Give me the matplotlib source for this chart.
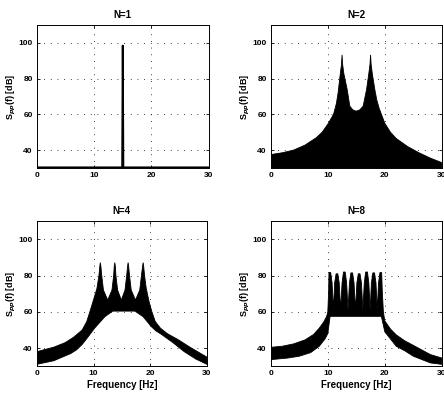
import numpy as np
import matplotlib.pyplot as plt

plt.rcParams['font.family'] = ['Liberation Sans', 'DejaVu Sans']
plt.rcParams['font.weight'] = 'bold'

# ==========================
# data (dB)
# ==========================

# N=1: single line at 15 Hz
f1 = [0, 14.9, 15.0, 15.1, 30]
s1 = [30.3, 30.3, 98.5, 30.3, 30.3]

# N=2: upper envelope, filled to the bottom
f2_up = [0, 2, 4, 6, 8, 9, 10, 11, 11.5, 11.8, 12.2, 12.4, 12.5, 12.6, 12.8, 13.4,
         13.86, 14.4, 15, 15.6, 16.2, 16.8, 17.2, 17.4, 17.5, 17.6, 17.8, 18.25,
         18.6, 19.0, 20, 21, 22, 24, 26, 28, 30]
s2_up = [37.5, 38.5, 40, 42.8, 47, 50, 54.5, 60, 66, 72, 83, 88, 93.3, 88, 83, 73.9,
         64.6, 62.5, 61.8, 62.5, 64.6, 73.9, 83, 88, 93.3, 88, 83, 73.9,
         68, 63.5, 55, 50, 46.5, 42, 38.5, 35.5, 33]
f2_lo = [0, 30]
s2_lo = [25, 25]

# N=4: upper and lower envelopes
f4_up = [0, 3, 5, 6.5, 8, 8.8, 9.35, 9.9, 10.6, 10.95, 11.1, 11.2, 11.3, 11.45, 11.75,
         12.5, 13.25, 13.55, 13.65, 13.75, 13.85, 13.95, 14.25,
         14.9, 15.55, 15.85, 16.0, 16.1, 16.2, 16.35, 16.65,
         17.4, 18.15, 18.45, 18.65, 18.75, 18.85, 19.0, 19.3,
         19.8, 20.3, 20.9, 21.8, 23, 25, 27, 30]
s4_up = [38, 40.5, 43, 46, 50, 54.6, 60, 65.6, 72.9, 80, 85, 87.2, 85, 80, 72,
         66.5, 72, 80, 85, 87.2, 85, 80, 72,
         66.5, 72, 80, 85, 87.2, 85, 80, 72,
         66.5, 72, 80, 85, 87.2, 85, 80, 72.9,
         65.6, 60, 54.6, 51, 48, 44.5, 40.5, 35]
f4_lo = [0, 3, 6, 7, 8, 9, 10.2, 12, 13.4, 17.3, 18.75, 20.2, 21, 22, 24, 26, 28, 30]
s4_lo = [31, 33, 37, 39, 42, 46, 51, 57.3, 60.4, 60.4, 57.3, 51.8, 49.5, 47.5, 43, 38, 34, 31]

# N=8: upper and lower envelopes
f8_up = [0, 2, 4, 6, 7.5, 8.5, 9.3, 9.8, 10.0, 10.15, 10.2, 10.5, 10.75,
         10.975, 11.2, 11.45, 11.75, 12.0,
         12.25, 12.5, 12.75, 13.05, 13.3,
         13.55, 13.8, 14.05, 14.35, 14.6,
         14.85, 15.1, 15.35, 15.65, 15.9,
         16.15, 16.4, 16.65, 16.95, 17.2,
         17.43, 17.65, 17.9, 18.2, 18.45,
         18.68, 18.9, 19.15, 19.45, 19.55, 19.75, 20, 21, 22, 23.5, 25, 28, 30]
s8_up = [40.4, 41, 42.3, 44.5, 47.5, 51, 54.5, 57.5, 60, 72, 81.7, 81.7, 76,
         61, 76, 81, 81, 76,
         61, 76, 82, 82, 76,
         61, 76, 81.5, 81.5, 76,
         61, 76, 81, 81, 76,
         61, 76, 82, 82, 76,
         61, 76, 81.5, 81.5, 76,
         61, 76, 81.7, 81.7, 72, 60, 55, 50.5, 47.3, 44, 41.5, 36.4, 34.5]
f8_lo = [0, 3, 5, 7, 8.5, 9.5, 10, 10.4, 19.4, 20, 21, 22, 23.5, 25, 28, 30]
s8_lo = [33.6, 34.5, 35.5, 37.5, 41, 45, 48, 57.5, 57.5, 49, 45, 41, 38.5, 35.5, 31.8, 31]

titles = ["N=1", "N=2", "N=4", "N=8"]

# axes positions in figure fraction (444 x 398 px)
positions = [
    [0.083, 0.578, 0.387, 0.359],
    [0.610, 0.578, 0.385, 0.359],
    [0.083, 0.080, 0.383, 0.364],
    [0.610, 0.080, 0.385, 0.364],
]

fig = plt.figure(figsize=(4.44, 3.98), dpi=100)
axes = [fig.add_axes(p) for p in positions]

# (a) N=1
axes[0].plot(f1, s1, color='black', linewidth=1.4)

# (b) N=2
axes[1].fill(
    np.concatenate([f2_up, f2_lo[::-1]]),
    np.concatenate([s2_up, s2_lo[::-1]]),
    color='black', linewidth=0.6
)

# (c) N=4
axes[2].fill(
    np.concatenate([f4_up, f4_lo[::-1]]),
    np.concatenate([s4_up, s4_lo[::-1]]),
    color='black', linewidth=0.6
)

# (d) N=8
axes[3].fill(
    np.concatenate([f8_up, f8_lo[::-1]]),
    np.concatenate([s8_up, s8_lo[::-1]]),
    color='black', linewidth=0.6
)

for i, ax in enumerate(axes):
    ax.set_xlim(0, 30)
    ax.set_ylim(30, 110)
    ax.set_xticks([0, 10, 20, 30])
    ax.set_yticks([40, 60, 80, 100])
    ax.tick_params(direction='in', length=2.5, width=0.6,
                   labelsize=6, pad=3, top=True, right=True)
    ax.grid(True, color='black', linestyle=(0, (1, 7)), linewidth=0.6)
    for sp in ax.spines.values():
        sp.set_linewidth(0.7)
    ax.set_title(titles[i], fontsize=7, fontweight='bold', pad=5)
    ax.set_ylabel(r"S$_{pp}$(f) [dB]", fontsize=6.5, fontweight='bold', labelpad=0.5)
    if i >= 2:
        ax.set_xlabel("Frequency [Hz]", fontsize=7, fontweight='bold', labelpad=2)

fig.savefig("out.png", dpi=100)
